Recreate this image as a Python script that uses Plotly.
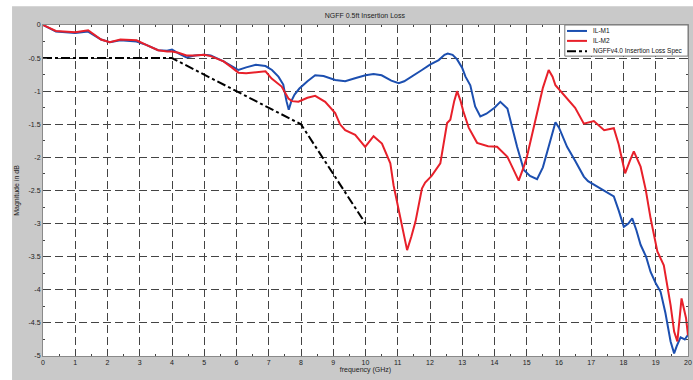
import plotly.graph_objects as go

# ---- data ----
f_m1 = [0, 0.4, 1.0, 1.4, 1.8, 2.07, 2.4, 2.9, 3.2, 3.57, 3.85, 4.0, 4.2, 4.45, 4.7, 5.0, 5.2, 5.6, 5.85,
        6.06, 6.3, 6.6, 6.9, 7.1, 7.3, 7.45, 7.55, 7.62, 7.7, 7.8, 7.95, 8.2, 8.44, 8.7, 9.06, 9.37, 9.7,
        10.0, 10.25, 10.5, 10.8, 11.03, 11.2, 11.44, 11.75, 12.0, 12.27, 12.45, 12.55, 12.7, 12.84, 13.0,
        13.1, 13.25, 13.4, 13.56, 13.75, 14.0, 14.18, 14.4, 14.49, 14.7, 14.91, 15.1, 15.32, 15.5, 15.7,
        15.89, 16.0, 16.25, 16.5, 16.77, 16.9, 17.1, 17.4, 17.7, 17.85, 18.01, 18.15, 18.27, 18.4, 18.53,
        18.7, 18.84, 19.0, 19.15, 19.3, 19.46, 19.57, 19.65, 19.77, 19.9, 20.0]
il_m1 = [0, -0.10, -0.12, -0.10, -0.22, -0.26, -0.23, -0.25, -0.30, -0.38, -0.39, -0.37, -0.43, -0.49,
         -0.46, -0.45, -0.46, -0.55, -0.62, -0.68, -0.64, -0.60, -0.62, -0.68, -0.78, -0.90, -1.15, -1.28,
         -1.15, -1.05, -0.96, -0.85, -0.76, -0.77, -0.83, -0.85, -0.80, -0.76, -0.74, -0.76, -0.84, -0.88,
         -0.85, -0.78, -0.68, -0.60, -0.53, -0.45, -0.43, -0.45, -0.52, -0.65, -0.78, -0.91, -1.23, -1.38,
         -1.34, -1.25, -1.16, -1.26, -1.43, -1.84, -2.19, -2.28, -2.33, -2.15, -1.80, -1.47, -1.55, -1.84,
         -2.05, -2.29, -2.36, -2.42, -2.50, -2.59, -2.80, -3.05, -3.00, -2.92, -3.10, -3.32, -3.50, -3.73,
         -3.90, -4.03, -4.35, -4.78, -4.96, -4.85, -4.72, -4.75, -4.68]

f_m2 = [0, 0.4, 1.0, 1.4, 1.8, 2.07, 2.4, 2.9, 3.2, 3.57, 3.85, 4.0, 4.2, 4.45, 4.7, 5.0, 5.2, 5.6, 5.85,
        6.06, 6.3, 6.6, 6.9, 7.09, 7.4, 7.61, 7.72, 7.92, 8.2, 8.44, 8.75, 9.06, 9.21, 9.37, 9.68, 9.99,
        10.25, 10.51, 10.77, 10.87, 11.0, 11.15, 11.29, 11.42, 11.55, 11.75, 11.85, 12.05, 12.32, 12.53,
        12.63, 12.75, 12.84, 12.95, 13.03, 13.2, 13.46, 13.8, 14.08, 14.4, 14.55, 14.75, 14.91, 15.0,
        15.32, 15.5, 15.68, 15.8, 15.89, 16.05, 16.25, 16.5, 16.77, 17.08, 17.4, 17.7, 17.85, 18.05,
        18.2, 18.32, 18.53, 18.69, 18.84, 19.05, 19.25, 19.46, 19.57, 19.67, 19.8, 19.94, 20.0]
il_m2 = [0, -0.09, -0.11, -0.08, -0.22, -0.26, -0.22, -0.23, -0.30, -0.38, -0.40, -0.40, -0.42, -0.46,
         -0.46, -0.45, -0.47, -0.55, -0.64, -0.72, -0.73, -0.71, -0.70, -0.81, -0.93, -1.11, -1.15, -1.16,
         -1.10, -1.07, -1.16, -1.33, -1.50, -1.59, -1.66, -1.84, -1.68, -1.79, -2.09, -2.42, -2.72, -3.05,
         -3.40, -3.20, -2.97, -2.47, -2.38, -2.28, -2.09, -1.48, -1.43, -1.15, -1.00, -1.15, -1.30, -1.55,
         -1.78, -1.83, -1.84, -1.99, -2.15, -2.35, -2.14, -2.00, -1.33, -0.95, -0.68, -0.78, -0.91, -1.00,
         -1.11, -1.25, -1.49, -1.45, -1.59, -1.56, -1.80, -2.24, -2.05, -1.91, -2.14, -2.49, -2.92, -3.42,
         -3.63, -4.23, -4.63, -4.78, -4.13, -4.43, -4.69]

f_spec = [0, 4, 8, 10]
il_spec = [-0.5, -0.5, -1.5, -3.0]

names = ["IL-M1", "IL-M2", "NGFFv4.0 Insertion Loss Spec"]
colors = ["#1c4fb0", "#e8202a", "black"]
dashes = ["solid", "solid", "dashdot"]
x_ticks = list(range(0, 21))
y_ticks = [0, -0.5, -1, -1.5, -2, -2.5, -3, -3.5, -4, -4.5, -5]

FONT = "Liberation Sans, Arial, sans-serif"

fig = go.Figure()
for xs, ys, nm, c, d in zip([f_m1, f_m2, f_spec], [il_m1, il_m2, il_spec], names, colors, dashes):
    fig.add_trace(go.Scatter(x=xs, y=ys, mode="lines", name=nm, showlegend=False,
                             line=dict(color=c, width=2, dash=d)))

axis_common = dict(
    showline=True, linecolor="#8a8a8a", linewidth=1, mirror="ticks",
    ticks="inside", ticklen=4, tickcolor="#444",
    showgrid=True, gridcolor="#444", gridwidth=1, griddash="8px,4px",
    zeroline=False, automargin=False, tickfont=dict(size=7, color="#222", family=FONT),
)

fig.update_xaxes(range=[0, 20], tickvals=x_ticks, ticktext=[str(v) for v in x_ticks],
                 title=dict(text="frequency (GHz)", font=dict(size=7, color="#222", family=FONT), standoff=0),
                 minor=dict(dtick=0.5, ticks="inside", ticklen=2, tickcolor="#444", showgrid=False),
                 **axis_common)
fig.update_yaxes(range=[-5, 0], tickvals=y_ticks, ticktext=[str(v) for v in y_ticks],
                 title=dict(text="Magnitude in dB", font=dict(size=7, color="#222", family=FONT), standoff=8),
                 minor=dict(dtick=0.25, ticks="inside", ticklen=2, tickcolor="#444", showgrid=False),
                 **axis_common)

# custom compact legend (paper coordinates)
leg_x0, leg_x1, leg_y0, leg_y1 = 0.809, 1.0, 0.906, 1.0
row_y = [0.982, 0.952, 0.921]
shapes = [
    dict(type="rect", xref="paper", yref="paper", x0=-0.2, x1=-0.048, y0=-0.2, y1=1.2,
         fillcolor="white", line=dict(width=0), layer="below"),
    dict(type="rect", xref="paper", yref="paper", x0=-0.2, x1=1.1, y0=1.057, y1=1.2,
         fillcolor="white", line=dict(width=0), layer="below"),
    dict(type="rect", xref="paper", yref="paper", x0=leg_x0, x1=leg_x1, y0=leg_y0, y1=leg_y1,
         fillcolor="white", line=dict(color="#777", width=1), layer="above"),
]
annotations = []
for ry, nm, c, d in zip(row_y, names, colors, dashes):
    shapes.append(dict(type="line", xref="paper", yref="paper", x0=0.8124, x1=0.8434, y0=ry, y1=ry,
                       line=dict(color=c, width=2, dash=d), layer="above"))
    annotations.append(dict(xref="paper", yref="paper", x=0.849, y=ry, text=nm, showarrow=False,
                            xanchor="left", yanchor="middle",
                            font=dict(size=6.5, color="#111", family=FONT)))

fig.update_layout(
    width=693, height=380,
    margin=dict(l=43, r=5, t=25, b=24),
    paper_bgcolor="#c9c9c9", plot_bgcolor="white",
    title=dict(text="NGFF 0.5ft Insertion Loss", x=0.5265, xanchor="center", y=0.96, yanchor="middle",
               font=dict(size=7, color="#222", family=FONT)),
    showlegend=False,
    shapes=shapes,
    annotations=annotations,
)

fig.write_html("out.html", config={"displayModeBar": False},
               post_script="document.body.style.margin='0';")
